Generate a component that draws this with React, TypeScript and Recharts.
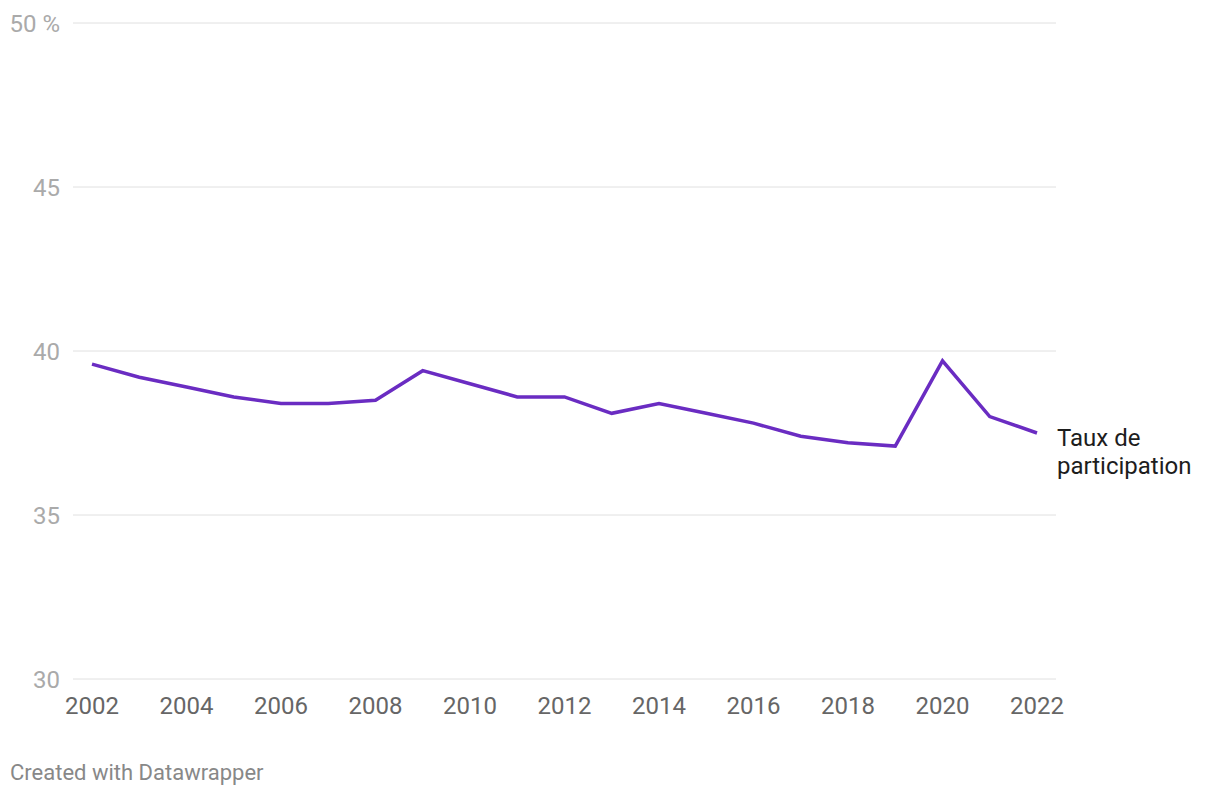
import { LineChart, Line, XAxis, YAxis, CartesianGrid } from "recharts";

const years = [
  2002, 2003, 2004, 2005, 2006, 2007, 2008, 2009, 2010, 2011, 2012,
  2013, 2014, 2015, 2016, 2017, 2018, 2019, 2020, 2021, 2022,
];
const participation = [
  39.6, 39.2, 38.9, 38.6, 38.4, 38.4, 38.5, 39.4, 39.0, 38.6, 38.6,
  38.1, 38.4, 38.1, 37.8, 37.4, 37.2, 37.1, 39.7, 38.0, 37.5,
];
const xTicks = [2002, 2004, 2006, 2008, 2010, 2012, 2014, 2016, 2018, 2020, 2022];
const yTicks = [30, 35, 40, 45, 50];
const seriesLabel = ["Taux de", "participation"];

const data = years.map((year, i) => ({ year, value: participation[i] }));

const FONT = "Roboto, 'Noto Sans', sans-serif";
const PURPLE = "#6a2cc2";

function EndLabel(props: any) {
  const { x, y, index } = props;
  if (index !== data.length - 1) return null;
  return (
    <text x={x + 20} y={y} fontFamily={FONT} fontSize={24} fill="#1d1d1d">
      <tspan x={x + 20} dy={12.5}>{seriesLabel[0]}</tspan>
      <tspan x={x + 20} dy={28}>{seriesLabel[1]}</tspan>
    </text>
  );
}

export default function App() {
  return (
    <div style={{ position: "absolute", top: 0, left: 0, width: 1220, height: 796, background: "#fff", fontFamily: FONT }}>
      <LineChart
        width={1220}
        height={796}
        data={data}
        margin={{ top: 23, right: 164, bottom: 0, left: 0 }}
      >
        <CartesianGrid vertical={false} stroke="#e0e0e0" strokeWidth={1} />
        <XAxis
          dataKey="year"
          type="number"
          domain={[2002, 2022]}
          ticks={xTicks}
          padding={{ left: 19, right: 19 }}
          axisLine={false}
          tickLine={false}
          tickSize={0}
          tickMargin={18}
          height={117}
          tick={{ fontSize: 24, fill: "#666666", fontFamily: FONT }}
        />
        <YAxis
          domain={[30, 50]}
          ticks={yTicks}
          width={73}
          axisLine={false}
          tickLine={false}
          tickSize={0}
          tickMargin={13}
          tick={{ fontSize: 24, fill: "#aaaaaa", fontFamily: FONT }}
          tickFormatter={(v: number) => (v === 50 ? "50 %" : String(v))}
        />
        <Line
          type="linear"
          dataKey="value"
          stroke={PURPLE}
          strokeWidth={3.5}
          dot={false}
          activeDot={false}
          isAnimationActive={false}
          label={<EndLabel />}
        />
      </LineChart>
      <div
        style={{
          position: "absolute",
          left: 10,
          top: 760,
          fontSize: 22,
          color: "#888888",
          fontFamily: FONT,
          lineHeight: "26px",
        }}
      >
        Created with Datawrapper
      </div>
    </div>
  );
}
